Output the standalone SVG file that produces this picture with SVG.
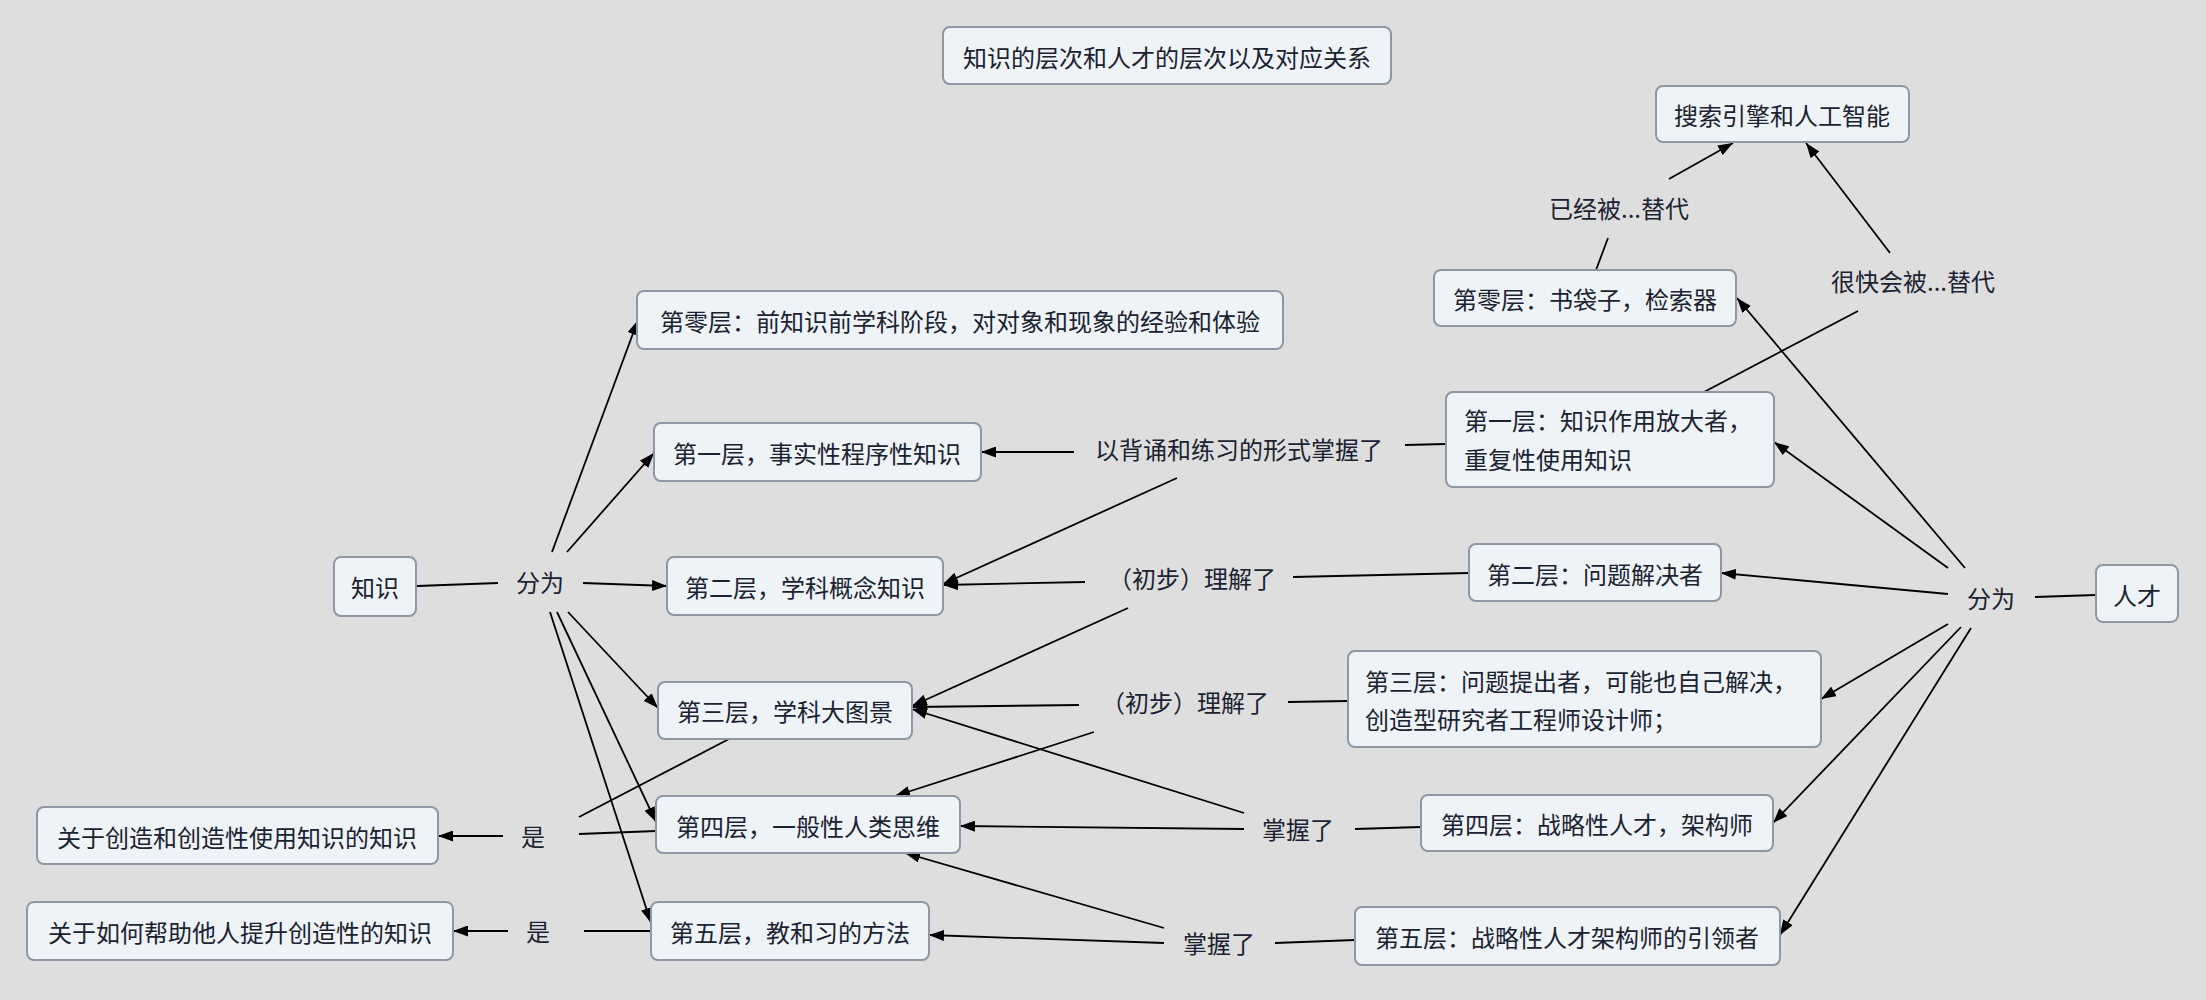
<svg xmlns="http://www.w3.org/2000/svg" width="2206" height="1000" viewBox="0 0 2206 1000">
<style>
.bg{fill:#dedede}
.box{fill:#edf3f6;stroke:#8d98a4;stroke-width:2}
text{font-family:"Noto Sans CJK SC","Noto Sans",sans-serif;font-size:24px;fill:#1b2232;dominant-baseline:central}
.c{text-anchor:middle}
.l{text-anchor:start}
.ln{stroke:#000;stroke-width:1.8;fill:none}
.ar{marker-end:url(#ah)}
</style>
<defs>
<marker id="ah" markerUnits="userSpaceOnUse" markerWidth="15" markerHeight="11" refX="15" refY="5.5" orient="auto">
<path d="M0,0 L15,5.5 L0,11 z" fill="#000"/>
</marker>
</defs>
<rect class="bg" x="0" y="0" width="2206" height="1000"/>
<g id="connectors">
<line class="ln" x1="417" y1="586" x2="498" y2="583"/>
<line class="ln ar" x1="552" y1="552" x2="638" y2="320"/>
<line class="ln ar" x1="567" y1="552" x2="654" y2="453"/>
<line class="ln ar" x1="583" y1="583" x2="667" y2="586"/>
<line class="ln ar" x1="568" y1="612" x2="658" y2="708"/>
<line class="ln ar" x1="557" y1="612" x2="656" y2="822"/>
<line class="ln ar" x1="550" y1="612" x2="651" y2="923"/>
<line class="ln ar" x1="1074" y1="452" x2="981" y2="452"/>
<line class="ln" x1="1405" y1="445" x2="1446" y2="444"/>
<line class="ln ar" x1="1177" y1="478" x2="943" y2="584"/>
<line class="ln ar" x1="1085" y1="582" x2="943" y2="585"/>
<line class="ln" x1="1293" y1="577" x2="1469" y2="573"/>
<line class="ln ar" x1="1128" y1="608" x2="912" y2="706"/>
<line class="ln ar" x1="1079" y1="705" x2="912" y2="707"/>
<line class="ln" x1="1288" y1="702" x2="1348" y2="701"/>
<line class="ln ar" x1="1094" y1="732" x2="895" y2="796"/>
<line class="ln ar" x1="1244" y1="813" x2="912" y2="709"/>
<line class="ln ar" x1="1244" y1="829" x2="960" y2="826"/>
<line class="ln" x1="1355" y1="829" x2="1421" y2="827"/>
<line class="ln ar" x1="1164" y1="928" x2="905" y2="853"/>
<line class="ln ar" x1="1164" y1="943" x2="929" y2="935"/>
<line class="ln" x1="1275" y1="943" x2="1355" y2="940"/>
<line class="ln" x1="729" y1="739" x2="579" y2="817"/>
<line class="ln" x1="656" y1="831" x2="579" y2="834"/>
<line class="ln ar" x1="503" y1="836" x2="438" y2="836"/>
<line class="ln" x1="651" y1="931" x2="584" y2="931"/>
<line class="ln ar" x1="508" y1="931" x2="453" y2="931"/>
<line class="ln" x1="2035" y1="597" x2="2096" y2="595"/>
<line class="ln ar" x1="1965" y1="568" x2="1737" y2="298"/>
<line class="ln ar" x1="1948" y1="568" x2="1774" y2="442"/>
<line class="ln ar" x1="1948" y1="594" x2="1721" y2="573"/>
<line class="ln ar" x1="1948" y1="624" x2="1821" y2="699"/>
<line class="ln ar" x1="1961" y1="627" x2="1773" y2="823"/>
<line class="ln ar" x1="1971" y1="628" x2="1780" y2="935"/>
<line class="ln" x1="1596" y1="270" x2="1608" y2="238"/>
<line class="ln ar" x1="1669" y1="179" x2="1733" y2="143"/>
<line class="ln" x1="1704" y1="392" x2="1858" y2="311"/>
<line class="ln ar" x1="1890" y1="253" x2="1806" y2="143"/>
</g>
<g id="title"><rect class="box" x="943" y="27" width="448" height="57" rx="7"/><text class="c" x="1167" y="56">知识的层次和人才的层次以及对应关系</text></g>
<g id="n-search"><rect class="box" x="1656" y="86" width="253" height="56" rx="7"/><text class="c" x="1782" y="114">搜索引擎和人工智能</text></g>
<g id="n-r0"><rect class="box" x="1434" y="270" width="302" height="56" rx="7"/><text class="c" x="1585" y="298">第零层：书袋子，检索器</text></g>
<g id="n-k0"><rect class="box" x="637" y="291" width="646" height="58" rx="7"/><text class="c" x="960" y="320">第零层：前知识前学科阶段，对对象和现象的经验和体验</text></g>
<g id="n-k1"><rect class="box" x="654" y="423" width="327" height="58" rx="7"/><text class="c" x="817" y="452">第一层，事实性程序性知识</text></g>
<g id="n-r1"><rect class="box" x="1446" y="392" width="328" height="95" rx="7"/><text class="l" x="1464" y="419">第一层：知识作用放大者，</text><text class="l" x="1464" y="458">重复性使用知识</text></g>
<g id="n-know"><rect class="box" x="334" y="557" width="82" height="59" rx="7"/><text class="c" x="375" y="586">知识</text></g>
<g id="n-k2"><rect class="box" x="667" y="557" width="276" height="58" rx="7"/><text class="c" x="805" y="586">第二层，学科概念知识</text></g>
<g id="n-r2"><rect class="box" x="1469" y="544" width="252" height="57" rx="7"/><text class="c" x="1595" y="573">第二层：问题解决者</text></g>
<g id="n-talent"><rect class="box" x="2096" y="565" width="82" height="57" rx="7"/><text class="c" x="2137" y="594">人才</text></g>
<g id="n-k3"><rect class="box" x="658" y="682" width="254" height="57" rx="7"/><text class="c" x="785" y="710">第三层，学科大图景</text></g>
<g id="n-r3"><rect class="box" x="1348" y="651" width="473" height="96" rx="7"/><text class="l" x="1365" y="680">第三层：问题提出者，可能也自己解决，</text><text class="l" x="1365" y="718">创造型研究者工程师设计师；</text></g>
<g id="n-create"><rect class="box" x="37" y="807" width="401" height="57" rx="7"/><text class="c" x="237" y="836">关于创造和创造性使用知识的知识</text></g>
<g id="n-k4"><rect class="box" x="656" y="796" width="304" height="57" rx="7"/><text class="c" x="808" y="825">第四层，一般性人类思维</text></g>
<g id="n-r4"><rect class="box" x="1421" y="795" width="352" height="56" rx="7"/><text class="c" x="1597" y="823">第四层：战略性人才，架构师</text></g>
<g id="n-help"><rect class="box" x="27" y="902" width="426" height="58" rx="7"/><text class="c" x="240" y="931">关于如何帮助他人提升创造性的知识</text></g>
<g id="n-k5"><rect class="box" x="651" y="902" width="278" height="58" rx="7"/><text class="c" x="790" y="931">第五层，教和习的方法</text></g>
<g id="n-r5"><rect class="box" x="1355" y="907" width="425" height="58" rx="7"/><text class="c" x="1567" y="936">第五层：战略性人才架构师的引领者</text></g>
<g id="labels">
<text class="c" x="540" y="581">分为</text>
<text class="c" x="1991" y="597">分为</text>
<text class="c" x="1239" y="448">以背诵和练习的形式掌握了</text>
<text class="c" x="1192" y="577">（初步）理解了</text>
<text class="c" x="1185" y="701">（初步）理解了</text>
<text class="c" x="1298" y="828">掌握了</text>
<text class="c" x="1219" y="942">掌握了</text>
<text class="c" x="533" y="835">是</text>
<text class="c" x="538" y="930">是</text>
<text class="c" x="1619" y="207">已经被...替代</text>
<text class="c" x="1913" y="280">很快会被...替代</text>
</g>
</svg>
